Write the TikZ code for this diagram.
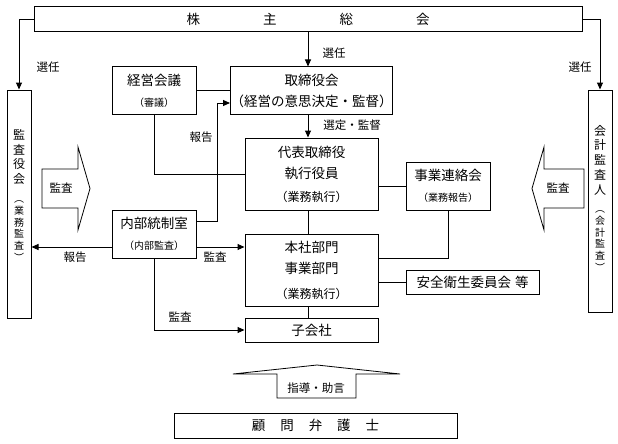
\documentclass[tikz,border=0pt]{standalone}
\usepackage{fontspec}
\setmainfont{Noto Sans CJK JP}
\usetikzlibrary{arrows.meta}

\begin{document}
\begin{tikzpicture}[x=1pt,y=-1pt,line width=1pt,>={Triangle[length=7pt,width=6pt]},
  caja/.style={draw,inner sep=0pt,align=center,font=\fontsize{13.5}{21}\selectfont},
  vtxt/.style={inner sep=0pt,align=center,font=\fontsize{12}{14.7}\selectfont},
  vpeq/.style={inner sep=0pt,align=center,font=\fontsize{10}{11.8}\selectfont},
  etiq/.style={inner sep=0pt,font=\fontsize{11.5}{13}\selectfont}]
\useasboundingbox (0,0) rectangle (618,444);
\coordinate (mid) at (308,0);
\coordinate (hk) at (217,0);

% Junta de accionistas
\node[caja,minimum width=548,minimum height=25] (soc) at (308,19.5) {株\hspace{63pt}主\hspace{63pt}総\hspace{63pt}会};

% Cajas laterales (texto vertical)
\node[caja,minimum width=24,minimum height=228] (kansa) at (19,204) {};
\node[vtxt] (kansa1) at (19,157) {監\\査\\役\\会};
\node[vpeq] (kansa2) at (19,231) {︵\\業\\務\\監\\査\\︶};
\node[caja,minimum width=24,minimum height=222] (kaikei) at (600,201) {};
\node[vtxt] (kaikei1) at (600,160) {会\\計\\監\\査\\人};
\node[vpeq] (kaikei2) at (600,241) {︵\\会\\計\\監\\査\\︶};

% Cajas centrales
\node[caja,minimum width=84,minimum height=47] (keiei) at (154,90.5) {経営会議\\{\fontsize{10}{12}\selectfont （審議）}};
\node[caja,minimum width=161,minimum height=47] (tori) at (311.5,90.5) {取締役会\\（経営の意思決定・監督）};
\node[caja,minimum width=133,minimum height=72] (daihyo) at (311.5,174) {代表取締役\\執行役員\\[2pt]{\fontsize{12}{14}\selectfont （業務執行）}};
\node[caja,minimum width=84,minimum height=48] (jigyo) at (448,186) {事業連絡会\\{\fontsize{10}{12}\selectfont （業務報告）}};
\node[caja,minimum width=84,minimum height=48] (naibu) at (154,234) {内部統制室\\{\fontsize{10}{12}\selectfont （内部監査）}};
\node[caja,minimum width=133,minimum height=72] (honsha) at (311.5,270) {本社部門\\事業部門\\[4pt]{\fontsize{12}{14}\selectfont （業務執行）}};
\node[caja,minimum width=133,minimum height=24] (anzen) at (472.5,282) {安全衛生委員会\hspace{4pt}等};
\node[caja,minimum width=133,minimum height=24] (kogaisha) at (311.5,330) {子会社};
\node[caja,minimum width=283,minimum height=25] (komon) at (315.5,425.5) {顧\hspace{15pt}問\hspace{15pt}弁\hspace{15pt}護\hspace{15pt}士};

% Conexiones
\draw[->] (soc.west) -| (kansa.north);
\draw[->] (soc.east) -| (kaikei.north);
\draw[->] (soc.south -| mid) -- (tori.north -| mid);
\draw (keiei.east) -- (tori.west);
\draw[->] ([yshift=13pt]naibu.east) -- ([yshift=13pt]naibu.east -| hk) |- ([yshift=-12.5pt]tori.west);
\draw (keiei.south) |- (daihyo.west);
\draw[->] (tori.south -| mid) -- (daihyo.north -| mid);
\draw (jigyo.west) -- (jigyo.west -| daihyo.east);
\draw (jigyo.south) |- ([yshift=12pt]honsha.east);
\draw (daihyo.south -| mid) -- (honsha.north -| mid);
\draw (anzen.west) -- (anzen.west -| honsha.east);
\draw (honsha.south -| mid) -- (kogaisha.north -| mid);
\draw[->] ([yshift=-13pt]naibu.west) -- ([yshift=-13pt]naibu.west -| kansa.east);
\draw[->] ([yshift=-13pt]naibu.east) -- ([yshift=-13pt]naibu.east -| honsha.west);
\draw[->] (naibu.south) |- (kogaisha.west);

% Etiquetas
\node[etiq] (sen1) at (48,67) {選任};
\node[etiq] (sen2) at (580,67) {選任};
\node[etiq] (sen3) at (334,53) {選任};
\node[etiq] (sentei) at (352,125) {選定・監督};
\node[etiq] (hok1) at (201,137) {報告};
\node[etiq] (hok2) at (75,257) {報告};
\node[etiq] (kan1) at (215,257) {監査};
\node[etiq] (kan2) at (180,317) {監査};

% Flechas grandes
\draw[line width=0.8pt] (42,169) -- (78,169) -- (78,147) -- (90,188.5) -- (78,230) -- (78,208) -- (42,208) -- cycle;
\node[etiq] (kanL) at (61,188) {監査};
\draw[line width=0.8pt] (584,169) -- (544,169) -- (544,147) -- (532,188.5) -- (544,230) -- (544,208) -- (584,208) -- cycle;
\node[etiq] (kanR) at (558,188) {監査};
\draw[line width=0.8pt] (277,398) -- (277,374) -- (233,374) -- (317,365) -- (400,374) -- (356,374) -- (356,398) -- cycle;
\node[etiq] (shido) at (316,388) {指導・助言};

\end{tikzpicture}
\end{document}
